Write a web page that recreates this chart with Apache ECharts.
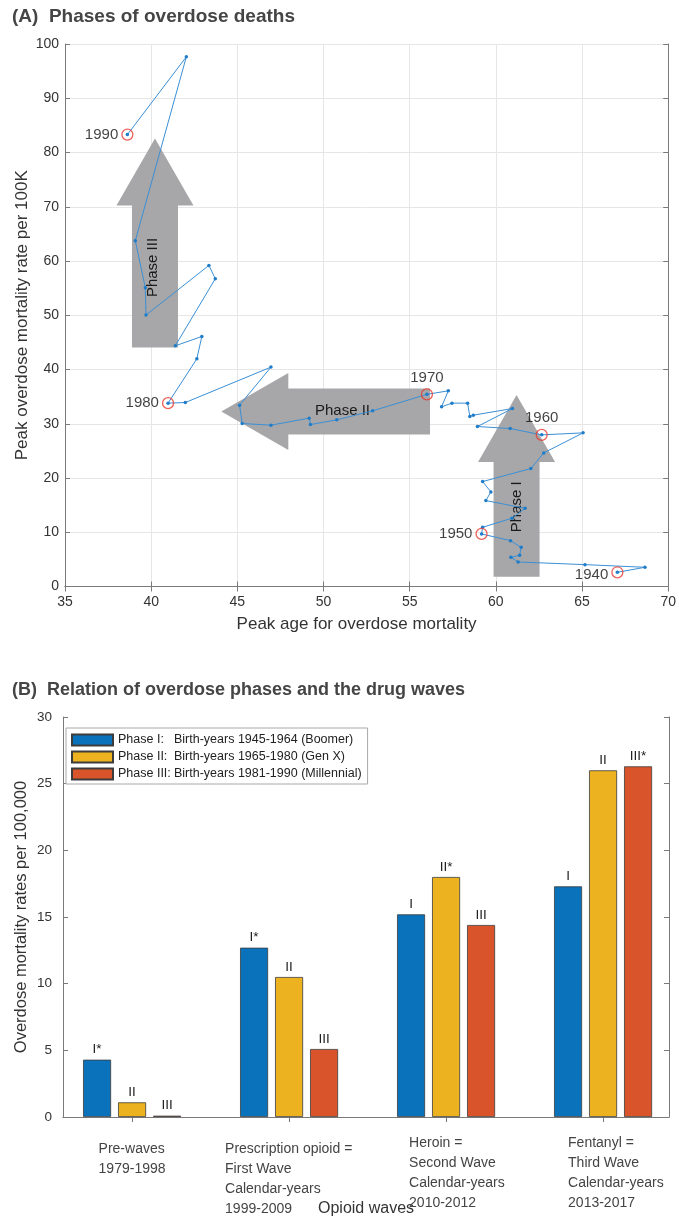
<!DOCTYPE html>
<html>
<head>
<meta charset="utf-8">
<script src="https://cdn.jsdelivr.net/npm/echarts@6/dist/echarts.min.js"></script>
<style>
  html, body { margin: 0; padding: 0; background: #fff; }
  #chart { width: 679px; height: 1218px; }
</style>
</head>
<body>
<div id="chart"></div>
<script>
// ---- Panel A: peak age vs peak overdose rate, birth cohorts 1940 -> 1990 ----
const peakAge = [
  67.05, 68.65, 65.17, 61.29, 60.87, 61.38, 61.47, 60.85,
  59.17, 59.23, 60.93, 61.70, 59.42, 59.71, 59.23, 62.03, 62.78, 65.06,
  62.66, 60.83, 58.93, 60.96, 58.69, 58.49, 58.36, 57.45, 56.85, 57.24,
  56.00, 52.85, 50.77, 49.24, 49.17, 46.95, 45.28, 45.13, 46.95, 41.98,
  40.98, 42.65, 42.94, 41.40, 43.72, 43.35, 39.70, 39.66, 39.08, 42.04,
  38.62
];
const peakRate = [
  2.62, 3.54, 4.03, 4.52, 5.38, 5.75, 7.23, 8.45,
  9.69, 10.92, 12.58, 14.42, 15.83, 17.44, 19.34, 21.74, 24.63, 28.32,
  27.95, 29.12, 29.49, 32.80, 31.58, 31.33, 33.80, 33.80, 33.12, 36.07,
  35.42, 32.38, 30.72, 29.85, 31.03, 29.74, 30.04, 33.43, 40.44, 33.91,
  33.80, 41.97, 46.09, 44.37, 56.73, 59.19, 50.03, 55.07, 63.75, 97.64,
  83.30
];
// Decade cohorts that get a red ring and a year label
const cohortYears = [1940, 1950, 1960, 1970, 1980, 1990];
const cohortAge   = [67.05, 59.17, 62.66, 56.00, 40.98, 38.62];
const cohortRate  = [2.62, 9.69, 27.95, 35.42, 33.80, 83.30];

// Phase arrows: tail (age, rate), tip (age, rate), caption anchor (age, rate)
const phaseArrowNames = ['Phase I', 'Phase II', 'Phase III'];
const phaseArrows = [
  [61.2, 1.8, 61.2, 35.3, 61.2, 14.7],
  [56.18, 32.25, 44.07, 32.25, 51.1, 32.4],
  [40.22, 44.06, 40.22, 82.56, 40.1, 58.8]
];

// ---- Panel B: mortality rates per 100,000 by opioid wave and phase ----
const waveLabels = [
  ['Pre-waves', '1979-1998'],
  ['Prescription opioid =', 'First Wave', 'Calendar-years', '1999-2009'],
  ['Heroin =', 'Second Wave', 'Calendar-years', '2010-2012'],
  ['Fentanyl =', 'Third Wave', 'Calendar-years', '2013-2017']
];
const phaseNames   = ['Phase I:', 'Phase II:', 'Phase III:'];
const phaseCohorts = [
  'Birth-years 1945-1964 (Boomer)',
  'Birth-years 1965-1980 (Gen X)',
  'Birth-years 1981-1990 (Millennial)'
];
const boomerRates     = [4.3, 12.7, 15.2, 17.3];
const genXRates       = [1.1, 10.5, 18.0, 26.0];
const millennialRates = [0.1, 5.1, 14.4, 26.3];
const boomerMarks     = ['I*', 'I*', 'I', 'I'];
const genXMarks       = ['II', 'II', 'II*', 'II'];
const millennialMarks = ['III', 'III', 'III', 'III*'];

const FONT = '"Liberation Sans", Arial, Helvetica, sans-serif';
const AXIS_COLOR = '#7a7a7a';
const TEXT_COLOR = '#333';

// Wave captions: lines left-aligned inside a block centred under each tick.
// The first two captions sit a little lower than the last two.
const captionShiftX = [0, 0, 11, 13];
const captionDropY  = [true, true, false, false];
const measureCtx = document.createElement('canvas').getContext('2d');
measureCtx.font = '14px ' + FONT;
const waveRich = { s: { fontSize: 6, lineHeight: 6 } };
waveLabels.forEach((lines, i) => {
  const w = Math.ceil(Math.max(...lines.map(l => measureCtx.measureText(l).width)));
  waveRich['c' + i] = {
    width: w, align: 'left', fontSize: 14, lineHeight: 20, color: '#444',
    padding: [0, 0, 0, captionShiftX[i] * 2]
  };
});

function renderArrow(params, api) {
  const tail = api.coord([api.value(0), api.value(1)]);
  const tip = api.coord([api.value(2), api.value(3)]);
  const at = api.coord([api.value(4), api.value(5)]);
  const dx = tip[0] - tail[0], dy = tip[1] - tail[1];
  const len = Math.hypot(dx, dy);
  const ux = dx / len, uy = dy / len, nx = -uy, ny = ux;
  const S = 23, H = 38.5, L = 67;
  const neck = [tip[0] - ux * L, tip[1] - uy * L];
  const off = (b, k) => [b[0] + nx * k, b[1] + ny * k];
  const vertical = Math.abs(dx) < Math.abs(dy);
  return {
    type: 'group',
    children: [
      {
        type: 'polygon',
        shape: { points: [off(tail, S), off(neck, S), off(neck, H), tip, off(neck, -H), off(neck, -S), off(tail, -S)] },
        style: { fill: '#a7a7a9' }
      },
      {
        type: 'text',
        x: at[0], y: at[1],
        rotation: vertical ? Math.PI / 2 : 0,
        style: {
          text: phaseArrowNames[params.dataIndex],
          fill: '#1a1a1a',
          font: '15px ' + FONT,
          align: 'center',
          verticalAlign: 'middle'
        }
      }
    ]
  };
}

const ringLabelSide = { 1940: 'left', 1950: 'left', 1960: 'top', 1970: 'top', 1980: 'left', 1990: 'left' };

const boxAxis = (extra) => Object.assign({
  axisLine: { show: true, lineStyle: { color: AXIS_COLOR, width: 1 } },
  axisTick: { show: true, inside: true, length: 5, lineStyle: { color: AXIS_COLOR } },
  axisLabel: { show: false },
  splitLine: { show: false }
}, extra);

function barSeries(name, values, marks, color) {
  return {
    type: 'bar',
    name: name,
    xAxisIndex: 2,
    yAxisIndex: 2,
    barWidth: 28,
    barGap: '25%',
    data: values.map((v, i) => [i + 1, v]),
    itemStyle: { color: color, borderColor: '#3c3c3c', borderWidth: 0.8 },
    label: {
      show: true, position: 'top', distance: 3,
      fontSize: 13.5, color: '#222', fontFamily: FONT,
      formatter: p => marks[p.dataIndex]
    }
  };
}

const option = {
  animation: false,
  backgroundColor: '#fff',
  textStyle: { fontFamily: FONT },
  title: [
    { text: '(A)  Phases of overdose deaths', left: 12, top: 7, padding: 0,
      textStyle: { fontSize: 19, fontWeight: 'bold', color: '#454545', fontFamily: FONT } },
    { text: '(B)  Relation of overdose phases and the drug waves', left: 12, top: 681, padding: 0,
      textStyle: { fontSize: 18, fontWeight: 'bold', color: '#454545', fontFamily: FONT } }
  ],
  grid: [
    { left: 65, right: 10, top: 44, height: 542.5 },
    { left: 63, right: 10, top: 717, height: 411 }
  ],
  legend: {
    left: 66, top: 728,
    orient: 'vertical',
    selectedMode: false,
    icon: 'rect',
    itemWidth: 41, itemHeight: 11, itemGap: 3,
    padding: [5, 6, 3, 5],
    borderColor: '#a8a8a8', borderWidth: 1, backgroundColor: '#fff',
    data: phaseNames,
    formatter: name => '{p|' + name + '}{t|' + phaseCohorts[phaseNames.indexOf(name)] + '}',
    textStyle: {
      fontSize: 12.5, color: '#222', lineHeight: 14,
      rich: { p: { width: 56, fontSize: 12.5, color: '#222' }, t: { fontSize: 12.5, color: '#222' } }
    }
  },
  xAxis: [
    {
      gridIndex: 0, type: 'value', min: 35, max: 70, interval: 5,
      name: 'Peak age for overdose mortality', nameLocation: 'middle', nameGap: 29,
      nameMoveOverlap: false,
      nameTextStyle: { fontSize: 17, color: TEXT_COLOR, padding: [0, 20, 0, 0] },
      axisLine: { show: true, lineStyle: { color: AXIS_COLOR } },
      axisTick: { show: true, inside: true, length: 5, lineStyle: { color: AXIS_COLOR } },
      axisLabel: { fontSize: 14, color: TEXT_COLOR, margin: 9 },
      splitLine: { show: true, lineStyle: { color: '#e6e6e6' } }
    },
    boxAxis({ gridIndex: 0, type: 'value', min: 35, max: 70, interval: 5, position: 'top' }),
    {
      gridIndex: 1, type: 'value', min: 0.56, max: 4.42,
      name: 'Opioid waves', nameLocation: 'middle', nameGap: 84,
      nameMoveOverlap: false,
      nameTextStyle: { fontSize: 16, color: TEXT_COLOR },
      axisLine: { show: true, lineStyle: { color: AXIS_COLOR } },
      axisTick: { show: true, inside: true, length: 5, customValues: [1, 2, 3, 4], lineStyle: { color: AXIS_COLOR } },
      axisLabel: {
        customValues: [1, 2, 3, 4], margin: 16, align: 'center', verticalAlign: 'top',
        formatter: v => {
          const i = Math.round(v) - 1;
          const body = waveLabels[i].map(l => '{c' + i + '|' + l + '}').join('\n');
          return captionDropY[i] ? '{s| }\n' + body : body;
        },
        rich: waveRich
      },
      splitLine: { show: false }
    },
    boxAxis({ gridIndex: 1, type: 'value', min: 0.56, max: 4.42, position: 'top',
      axisTick: { show: true, inside: true, length: 5, customValues: [1, 2, 3, 4], lineStyle: { color: AXIS_COLOR } } })
  ],
  yAxis: [
    {
      gridIndex: 0, type: 'value', min: 0, max: 100, interval: 10,
      name: 'Peak overdose mortality rate per 100K', nameLocation: 'middle', nameGap: 34.5,
      nameMoveOverlap: false,
      nameTextStyle: { fontSize: 17, color: TEXT_COLOR },
      axisLine: { show: true, lineStyle: { color: AXIS_COLOR } },
      axisTick: { show: true, inside: true, length: 5, lineStyle: { color: AXIS_COLOR } },
      axisLabel: { fontSize: 14, color: TEXT_COLOR, margin: 6 },
      splitLine: { show: true, lineStyle: { color: '#e6e6e6' } }
    },
    boxAxis({ gridIndex: 0, type: 'value', min: 0, max: 100, interval: 10, position: 'right' }),
    {
      gridIndex: 1, type: 'value', min: 0, max: 30, interval: 5,
      name: 'Overdose mortality rates per 100,000', nameLocation: 'middle', nameGap: 33,
      nameMoveOverlap: false,
      nameTextStyle: { fontSize: 16.5, color: TEXT_COLOR },
      axisLine: { show: true, lineStyle: { color: AXIS_COLOR } },
      axisTick: { show: true, inside: true, length: 5, lineStyle: { color: AXIS_COLOR } },
      axisLabel: { fontSize: 13.5, color: TEXT_COLOR, margin: 11 },
      splitLine: { show: false }
    },
    boxAxis({ gridIndex: 1, type: 'value', min: 0, max: 30, interval: 5, position: 'right' })
  ],
  series: [
    {
      type: 'custom',
      name: 'phases',
      xAxisIndex: 0, yAxisIndex: 0,
      z: 1,
      renderItem: renderArrow,
      data: phaseArrows,
      silent: true
    },
    {
      type: 'line',
      name: 'trajectory',
      xAxisIndex: 0, yAxisIndex: 0,
      z: 3,
      data: peakAge.map((a, i) => [a, peakRate[i]]),
      symbol: 'circle', symbolSize: 3.5, showAllSymbol: true,
      itemStyle: { color: '#1f7cc8' },
      lineStyle: { color: '#3a8fd6', width: 1 }
    },
    {
      type: 'scatter',
      name: 'cohorts',
      xAxisIndex: 0, yAxisIndex: 0,
      z: 4,
      symbol: 'circle', symbolSize: 11,
      itemStyle: { color: 'rgba(0,0,0,0)', borderColor: '#e8392f', borderWidth: 1.3 },
      data: cohortAge.map((a, i) => ({
        value: [a, cohortRate[i]],
        label: {
          position: ringLabelSide[cohortYears[i]],
          offset: cohortYears[i] === 1940 ? [0, 3] : [0, 0]
        }
      })),
      label: {
        show: true, distance: 3, fontSize: 15, color: '#111',
        formatter: p => String(cohortYears[p.dataIndex])
      }
    },
    barSeries(phaseNames[0], boomerRates, boomerMarks, '#0a72ba'),
    barSeries(phaseNames[1], genXRates, genXMarks, '#ecb21f'),
    barSeries(phaseNames[2], millennialRates, millennialMarks, '#d9542a')
  ]
};

const chart = echarts.init(document.getElementById('chart'), null, { renderer: 'canvas' });
chart.setOption(option);
</script>
</body>
</html>
